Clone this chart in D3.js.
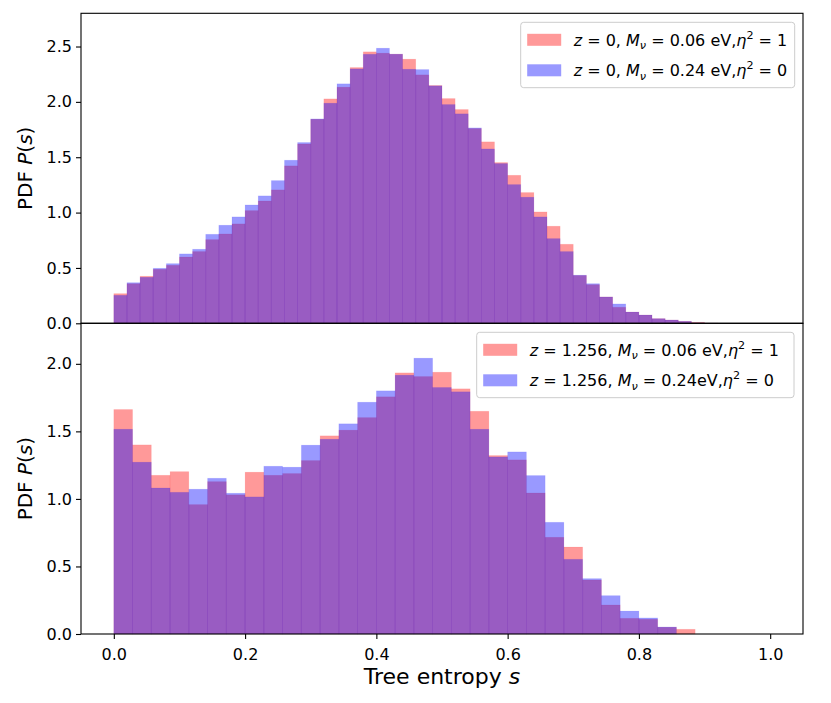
<!DOCTYPE html>
<html>
<head>
<meta charset="utf-8">
<script src="https://cdn.jsdelivr.net/npm/d3@7"></script>
<style>
  body { margin: 0; background: #fff; }
  text { font-family: "DejaVu Sans", sans-serif; }
</style>
</head>
<body>
<div id="canvas"></div>
<script>
"use strict"

// PDF of tree entropy
// top panel: z = 0, 50 bins over [0,1]
let topBins = 50;
let topRed = [0.268, 0.358, 0.425, 0.488, 0.524, 0.599, 0.648, 0.756, 0.807, 0.898,
              1.018, 1.105, 1.205, 1.422, 1.620, 1.843, 2.027, 2.133, 2.310, 2.452,
              2.440, 2.431, 2.386, 2.244, 2.148, 2.030, 1.931, 1.759, 1.639, 1.452,
              1.337, 1.181, 1.006, 0.877, 0.714, 0.432, 0.349, 0.238, 0.145, 0.102,
              0.075, 0.042, 0.030, 0.018, 0.009, 0.002, 0, 0, 0, 0];
let topBlue = [0.253, 0.367, 0.416, 0.497, 0.539, 0.627, 0.669, 0.804, 0.886, 0.961,
               1.069, 1.151, 1.289, 1.473, 1.633, 1.846, 1.988, 2.163, 2.298, 2.430,
               2.485, 2.431, 2.295, 2.292, 2.145, 1.976, 1.892, 1.765, 1.575, 1.443,
               1.253, 1.139, 0.961, 0.765, 0.648, 0.435, 0.358, 0.238, 0.175, 0.102,
               0.075, 0.042, 0.030, 0.018, 0.004, 0.001, 0, 0, 0, 0];

// bottom panel: z = 1.256, 35 bins over [0,1]
let botBins = 35;
let botRed = [1.662, 1.400, 1.175, 1.202, 0.958, 1.128, 1.030, 1.198, 1.175, 1.188,
              1.284, 1.467, 1.509, 1.602, 1.756, 1.933, 1.906, 1.938, 1.815, 1.649,
              1.321, 1.289, 1.044, 0.716, 0.644, 0.400, 0.215, 0.116, 0.109, 0.050,
              0.035, 0, 0, 0, 0];
let botBlue = [1.516, 1.272, 1.081, 1.049, 1.072, 1.153, 1.042, 1.015, 1.242, 1.235,
               1.398, 1.442, 1.556, 1.716, 1.800, 1.916, 2.042, 1.825, 1.793, 1.516,
               1.311, 1.348, 1.173, 0.827, 0.553, 0.410, 0.284, 0.170, 0.119, 0.052,
               0, 0, 0, 0, 0];

let xTicks = [0, 0.2, 0.4, 0.6, 0.8, 1.0];
let topYTicks = [0, 0.5, 1.0, 1.5, 2.0, 2.5];
let botYTicks = [0, 0.5, 1.0, 1.5, 2.0];

// legend texts as [piece, style]
let topLegend = [
    [["z", "i"], [" = 0, ", "n"], ["M", "i"], ["ν", "sub"], [" = 0.06 eV,", "n"], ["η", "i"], ["2", "sup"], [" = 1", "n"]],
    [["z", "i"], [" = 0, ", "n"], ["M", "i"], ["ν", "sub"], [" = 0.24 eV,", "n"], ["η", "i"], ["2", "sup"], [" = 0", "n"]]
];
let botLegend = [
    [["z", "i"], [" = 1.256, ", "n"], ["M", "i"], ["ν", "sub"], [" = 0.06 eV,", "n"], ["η", "i"], ["2", "sup"], [" = 1", "n"]],
    [["z", "i"], [" = 1.256, ", "n"], ["M", "i"], ["ν", "sub"], [" = 0.24eV,", "n"], ["η", "i"], ["2", "sup"], [" = 0", "n"]]
];

let drawingWidth = 831;
let drawingHeight = 703;

let left = 81;
let right = 803;
let topY0 = 13.3;
let midY = 323.3;
let botY1 = 634;

let tickFont = 16;
let labelFont = 20;
let legendFont = 16;

let redColor = "#ff0000";
let blueColor = "#0000ff";

let drawing = d3.select("#canvas")
    .append("svg")
    .attr("width", drawingWidth)
    .attr("height", drawingHeight);

let x = d3.scaleLinear()
    .domain([-0.05, 1.05])
    .range([left, right]);

let yTop = d3.scaleLinear()
    .domain([0, 2.80])
    .range([midY, topY0]);

let yBot = d3.scaleLinear()
    .domain([0, 2.30])
    .range([botY1, midY]);

/* writes a little math-ish label with tspans */
function mathText(sel, parts, size) {
    let shift = 0;
    parts.forEach(function (p) {
        let t = sel.append("tspan").text(p[0]);
        let want = 0;
        if (p[1] === "i") t.attr("font-style", "italic");
        if (p[1] === "sub") {
            t.attr("font-style", "italic").attr("font-size", size * 0.7);
            want = size * 0.22;
        }
        if (p[1] === "sup") {
            t.attr("font-size", size * 0.7);
            want = -size * 0.42;
        }
        if (want !== shift) t.attr("dy", want - shift);
        shift = want;
    });
}

function drawPanel(y, nBins, red, blue, yTicks, y0, y1, legendParts, legendBox, showX) {
    let g = drawing.append("g");
    let w = 1 / nBins;

    // red first, blue over it
    [[red, redColor], [blue, blueColor]].forEach(function (s) {
        g.selectAll(null)
            .data(s[0].map(function (v, i) { return { i: i, v: v }; }).filter(function (d) { return d.v > 0; }))
            .enter()
            .append("rect")
            .attr("x", function (d) { return x(d.i * w); })
            .attr("width", function (d) { return x((d.i + 1) * w) - x(d.i * w); })
            .attr("y", function (d) { return y(d.v); })
            .attr("height", function (d) { return y(0) - y(d.v); })
            .attr("fill", s[1])
            .attr("fill-opacity", 0.4)
            .attr("stroke", s[1])
            .attr("stroke-opacity", 0.08)
            .attr("stroke-width", 0.8);
    });

    // y axis
    let yAxis = d3.axisLeft(y)
        .tickValues(yTicks)
        .tickFormat(d3.format(".1f"))
        .tickSize(5)
        .tickPadding(4)
        .tickSizeOuter(0);
    let ya = g.append("g")
        .attr("transform", "translate(" + left + ",0)")
        .call(yAxis);
    ya.select(".domain").remove();
    ya.selectAll("text")
        .attr("font-size", tickFont)
        .attr("font-family", "DejaVu Sans")
        .attr("fill", "#000");
    ya.selectAll("line").attr("stroke", "#000").attr("stroke-width", 1.1);

    if (showX) {
        let xAxis = d3.axisBottom(x)
            .tickValues(xTicks)
            .tickFormat(d3.format(".1f"))
            .tickSize(5)
            .tickPadding(10)
            .tickSizeOuter(0);
        let xa = g.append("g")
            .attr("transform", "translate(0," + y1 + ")")
            .call(xAxis);
        xa.select(".domain").remove();
        xa.selectAll("text")
            .attr("font-size", tickFont)
            .attr("font-family", "DejaVu Sans")
            .attr("fill", "#000");
        xa.selectAll("line").attr("stroke", "#000").attr("stroke-width", 1.1);
    }

    // frame
    g.append("rect")
        .attr("x", left)
        .attr("y", y0)
        .attr("width", right - left)
        .attr("height", y1 - y0)
        .attr("fill", "none")
        .attr("stroke", "#000")
        .attr("stroke-width", 1.1);

    // y label
    let yl = g.append("text")
        .attr("transform", "translate(32," + ((y0 + y1) / 2) + ") rotate(-90)")
        .attr("text-anchor", "middle")
        .attr("font-size", labelFont)
        .attr("fill", "#000");
    mathText(yl, [["PDF ", "n"], ["P", "i"], ["(", "n"], ["s", "i"], [")", "n"]], labelFont);

    // legend
    let lg = g.append("g");
    lg.append("rect")
        .attr("x", legendBox[0])
        .attr("y", legendBox[1])
        .attr("width", legendBox[2])
        .attr("height", legendBox[3])
        .attr("rx", 3)
        .attr("fill", "#fff")
        .attr("fill-opacity", 0.8)
        .attr("stroke", "#cccccc")
        .attr("stroke-width", 1);
    let rowY = [legendBox[1] + 17.5, legendBox[1] + 48];
    [redColor, blueColor].forEach(function (c, k) {
        lg.append("rect")
            .attr("x", legendBox[0] + 6.5)
            .attr("y", rowY[k] - 6)
            .attr("width", 34)
            .attr("height", 12)
            .attr("fill", c)
            .attr("fill-opacity", 0.4);
        let t = lg.append("text")
            .attr("x", legendBox[0] + 53)
            .attr("y", rowY[k] + 5.8)
            .attr("font-size", legendFont)
            .attr("fill", "#000");
        mathText(t, legendParts[k], legendFont);
    });
}

drawPanel(yTop, topBins, topRed, topBlue, topYTicks, topY0, midY, topLegend, [520.7, 22.3, 274, 65.4], false);
drawPanel(yBot, botBins, botRed, botBlue, botYTicks, midY, botY1, botLegend, [476.7, 332.3, 317.3, 65.4], true);

// x label
let xl = drawing.append("text")
    .attr("x", (left + right) / 2)
    .attr("y", 684)
    .attr("text-anchor", "middle")
    .attr("font-size", 22)
    .attr("fill", "#000");
mathText(xl, [["Tree entropy ", "n"], ["s", "i"]], 22);
</script>
</body>
</html>
